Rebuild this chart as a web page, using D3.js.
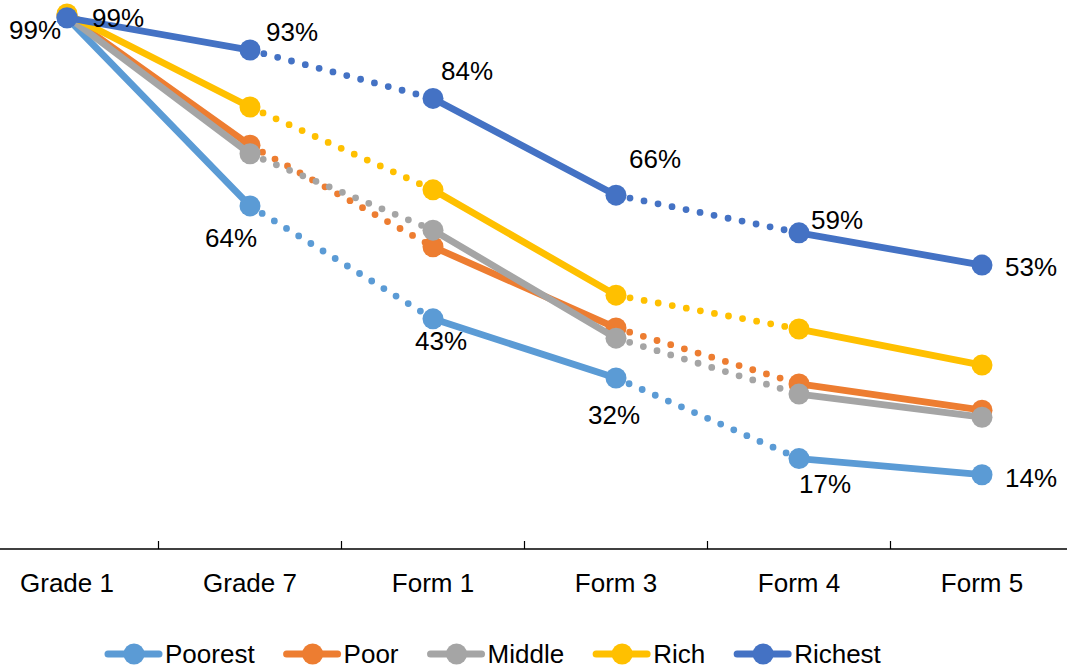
<!DOCTYPE html>
<html>
<head>
<meta charset="utf-8">
<script src="https://cdn.jsdelivr.net/npm/d3@7"></script>
<style>
  body { margin: 0; background: #fff; }
  svg { display: block; font-family: "Liberation Sans", Arial, sans-serif; }
</style>
</head>
<body>
<div id="chart"></div>
<script>
const categories = ["Grade 1", "Grade 7", "Form 1", "Form 3", "Form 4", "Form 5"];
const seriesNames = ["Poorest", "Poor", "Middle", "Rich", "Richest"];
const poorest = [99, 64, 43, 32, 17, 14];
const poor = [99.5, 75.3, 56.4, 41.3, 30.9, 26];
const middle = [99.3, 73.7, 59.5, 39.4, 29, 24.7];
const rich = [99.7, 82.4, 67, 47.4, 41.1, 34.4];
const richest = [99, 93, 84, 66, 59, 53];
// which segment after each category is dotted
const dottedAfter = [false, true, false, true, false];

const colors = ["#5B9BD5", "#ED7D31", "#A5A5A5", "#FFC000", "#4472C4"];
const values = [poorest, poor, middle, rich, richest];

// label offsets (from point) for the labelled series
const poorestOffsets = [[-32, 12], [-19, 32], [8, 22], [-2, 37], [26, 25], [49, 3]];
const richestOffsets = [[51, 0], [42, -18], [34, -27], [39, -36], [38, -13], [49, 2]];

const width = 1067, height = 669;
const svg = d3.select("#chart").append("svg")
  .attr("width", width)
  .attr("height", height);

const x = d3.scaleBand().domain(categories).range([-24.5, 1073.5]).padding(0);
const y = d3.scaleLinear().domain([0, 100]).range([550, 12.4]);
const cx = d => x(d) + x.bandwidth() / 2;

// x axis
const axisY = 549;
svg.append("line")
  .attr("x1", 0).attr("x2", width)
  .attr("y1", axisY).attr("y2", axisY)
  .attr("stroke", "#000").attr("stroke-width", 1.5);

svg.selectAll(".tick-mark")
  .data(categories.slice(1))
  .enter().append("line")
  .attr("x1", d => x(d)).attr("x2", d => x(d))
  .attr("y1", axisY).attr("y2", axisY - 8)
  .attr("stroke", "#000").attr("stroke-width", 1.2);

svg.selectAll(".cat-label")
  .data(categories)
  .enter().append("text")
  .attr("x", d => cx(d))
  .attr("y", 592)
  .attr("text-anchor", "middle")
  .style("font-size", "26px")
  .attr("fill", "#000")
  .text(d => d);

// lines
seriesNames.forEach((name, si) => {
  const vals = values[si];
  const g = svg.append("g").attr("class", "series-" + name);
  for (let i = 0; i < categories.length - 1; i++) {
    const seg = g.append("line")
      .attr("x1", cx(categories[i])).attr("y1", y(vals[i]))
      .attr("x2", cx(categories[i + 1])).attr("y2", y(vals[i + 1]))
      .attr("stroke", colors[si])
      .attr("stroke-linecap", "round")
      .attr("stroke-width", 6.8);
    if (dottedAfter[i]) seg.attr("stroke-dasharray", "0 14.3");
  }
  g.selectAll("circle")
    .data(vals)
    .enter().append("circle")
    .attr("cx", (d, i) => cx(categories[i]))
    .attr("cy", d => y(d))
    .attr("r", 10.5)
    .attr("fill", colors[si]);
});

// data labels
function addLabels(vals, offsets) {
  svg.selectAll(null)
    .data(vals)
    .enter().append("text")
    .attr("x", (d, i) => cx(categories[i]) + offsets[i][0])
    .attr("y", (d, i) => y(d) + offsets[i][1])
    .attr("text-anchor", "middle")
    .attr("dominant-baseline", "central")
    .style("font-size", "26px")
    .attr("fill", "#000")
    .text(d => Math.round(d) + "%");
}
addLabels(poorest, poorestOffsets);
addLabels(richest, richestOffsets);

// legend
const legend = svg.append("g").attr("class", "legend");
let lx = 105;
const ly = 654;
seriesNames.forEach((name, i) => {
  const item = legend.append("g");
  item.append("line")
    .attr("x1", lx + 3).attr("x2", lx + 54)
    .attr("y1", ly).attr("y2", ly)
    .attr("stroke", colors[i]).attr("stroke-width", 7)
    .attr("stroke-linecap", "round");
  item.append("circle")
    .attr("cx", lx + 29).attr("cy", ly).attr("r", 10.5)
    .attr("fill", colors[i]);
  const t = item.append("text")
    .attr("x", lx + 60)
    .attr("y", 663)
    .style("font-size", "26px")
    .attr("fill", "#000")
    .text(name);
  lx += 60 + t.node().getComputedTextLength() + 29;
});
</script>
</body>
</html>
